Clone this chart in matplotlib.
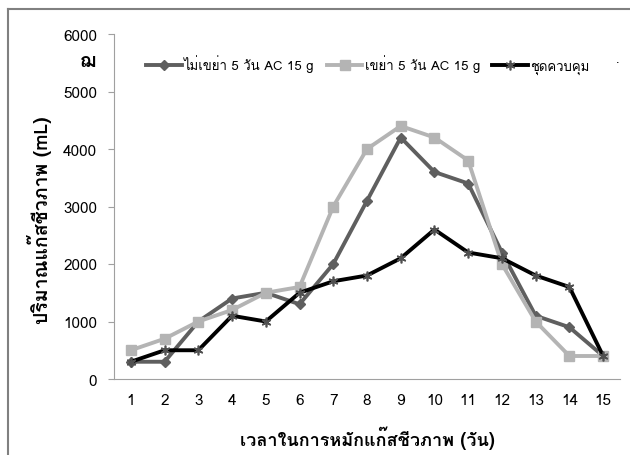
import matplotlib as mpl
import matplotlib.pyplot as plt
import numpy as np

plt.rcParams['font.family'] = ['Liberation Sans Narrow', 'Tahoma', 'Loma', 'Garuda',
                               'Noto Sans Thai', 'Norasi', 'DejaVu Sans']

days = list(range(1, 16))
not_shaken = [300, 300, 1000, 1400, 1500, 1300, 2000, 3100, 4200, 3600, 3400, 2200, 1100, 900, 400]
shaken = [500, 700, 1000, 1200, 1500, 1600, 3000, 4000, 4400, 4200, 3800, 2000, 1000, 400, 400]
control = [300, 500, 500, 1100, 1000, 1500, 1700, 1800, 2100, 2600, 2200, 2100, 1800, 1600, 400]
labels = ['ไม่เขย่า 5 วัน AC 15 g', 'เขย่า 5 วัน AC 15 g', 'ชุดควบคุม']
yticks = [0, 1000, 2000, 3000, 4000, 5000, 6000]

fig = plt.figure(figsize=(6.3, 4.56), dpi=100)
fig.patch.set_facecolor('white')
# frame of the picture (left and top edges visible)
fig.add_artist(mpl.lines.Line2D([8/630, 8/630], [0, 1-10/456], color='#808080', lw=1.5))
fig.add_artist(mpl.lines.Line2D([8/630, 1], [1-10/456, 1-10/456], color='#808080', lw=1.5))

ax = fig.add_axes([114/630, 1-380/456, 506/630, 345/456])
ax.plot(days, not_shaken, color='#5f5f5f', lw=2.8, marker='D', ms=5, label=labels[0])
ax.plot(days, shaken, color='#b4b4b4', lw=2.8, marker='s', ms=7, label=labels[1])
ax.plot(days, control, color='black', lw=2.8, marker=(6, 2, 0), ms=7, mec='#505050', mew=1.2,
        label=labels[2])

ax.set_xlim(0.5, 15.5)
ax.set_ylim(0, 6000)
ax.set_xticks(days)
ax.set_yticks(yticks)
ax.tick_params(axis='x', length=0, pad=10, labelsize=11)
ax.tick_params(axis='y', length=4, color='#a0a0a0', pad=8, labelsize=11)
for s in ['top', 'right']:
    ax.spines[s].set_visible(False)
ax.spines['left'].set_color('#a0a0a0')
ax.spines['bottom'].set_color('#a0a0a0')

leg = ax.legend(loc='upper left', bbox_to_anchor=(0.04, 0.975), ncol=3, frameon=False,
                fontsize=9.5, handlelength=2.7, handletextpad=0.2, columnspacing=0.9)
fig.text(618/630, 1-60/456, '.', fontsize=9, ha='center', va='center')

fig.text(88/630, 1-62/456, 'ฌ', fontsize=14, fontweight='bold', ha='center', va='center')
fig.text(40/630, 1-220/456, 'ปริมาณแก๊สชีวภาพ (mL)', fontsize=14, fontweight='bold',
         rotation=90, ha='center', va='center')
fig.text(367/630, 1-438/456, 'เวลาในการหมักแก๊สชีวภาพ (วัน)', fontsize=13, fontweight='bold',
         ha='center', va='center')

fig.savefig('out.png', dpi=100)
